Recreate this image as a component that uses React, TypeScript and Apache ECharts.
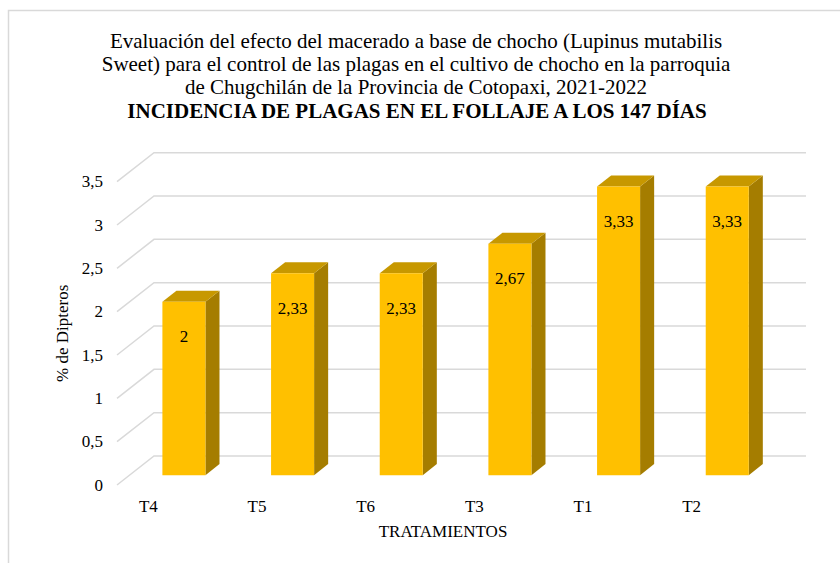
import React, { useEffect, useRef } from "react";
import * as echarts from "echarts";

const categories = ["T4", "T5", "T6", "T3", "T1", "T2"];
const values = [2, 2.33, 2.33, 2.67, 3.33, 3.33];
const yTicks = [0, 0.5, 1, 1.5, 2, 2.5, 3, 3.5];
const titleLines = [
  "Evaluación del efecto del macerado a base de chocho (Lupinus mutabilis",
  "Sweet) para el control de las plagas en el cultivo de chocho en la parroquia",
  "de Chugchilán de la Provincia de Cotopaxi, 2021-2022",
];
const titleBold = "INCIDENCIA DE PLAGAS EN EL FOLLAJE A LOS 147 DÍAS";
const yName = "% de Dipteros";
const xName = "TRATAMIENTOS";

const FONT = "Liberation Serif";
const DX = 37;
const DY = -29;
const fmt = (v: number) => String(v).replace(".", ",");

export default function App() {
  const ref = useRef<HTMLDivElement>(null);
  useEffect(() => {
    document.body.style.margin = "0";
    const chart = echarts.init(ref.current!, null, { renderer: "svg" });
    chart.setOption({
      animation: false,
      backgroundColor: "#ffffff",
      textStyle: { fontFamily: FONT },
      title: [
        {
          text: titleLines.join("\n"),
          left: 416,
          top: 29.5,
          textAlign: "center",
          padding: 0,
          textStyle: { fontFamily: FONT, fontSize: 21, fontWeight: "normal", color: "#000", lineHeight: 23 },
        },
        {
          text: titleBold,
          left: 417,
          top: 99,
          textAlign: "center",
          padding: 0,
          textStyle: { fontFamily: FONT, fontSize: 21, fontWeight: "bold", color: "#000", lineHeight: 23 },
        },
      ],
      graphic: [
        {
          type: "rect",
          shape: { x: 8.5, y: 10.5, width: 900, height: 700 },
          style: { fill: "none", stroke: "#d9d9d9", lineWidth: 1.5 },
          silent: true,
        },
      ],
      grid: { left: 117, top: 181.67, width: 652, height: 303.33 },
      xAxis: {
        type: "category",
        data: categories,
        axisLine: { show: false },
        axisTick: { show: false },
        axisLabel: { fontFamily: FONT, fontSize: 17, color: "#000", margin: 13, padding: [0, 46, 0, 0] },
        name: xName,
        nameLocation: "middle",
        nameGap: 38,
        nameTextStyle: { fontFamily: FONT, fontSize: 17, color: "#000" },
      },
      yAxis: {
        type: "value",
        min: 0,
        max: 3.5,
        interval: 0.5,
        axisLine: { show: false },
        axisTick: { show: false },
        splitLine: { show: false },
        axisLabel: { fontFamily: FONT, fontSize: 17, color: "#000", margin: 14, formatter: (v: number) => fmt(v) },
        name: yName,
        nameLocation: "middle",
        nameRotate: 90,
        nameGap: 44,
        nameTextStyle: { fontFamily: FONT, fontSize: 17, color: "#000" },
      },
      series: [
        {
          type: "custom",
          silent: true,
          z: 1,
          data: yTicks.map((v) => [0, v]),
          encode: { x: 0, y: 1 },
          renderItem: (params: any, api: any) => {
            const cs = params.coordSys;
            const y = api.coord([0, api.value(1)])[1];
            return {
              type: "polyline",
              shape: {
                points: [
                  [cs.x, y],
                  [cs.x + DX, y + DY],
                  [cs.x + cs.width + DX, y + DY],
                ],
              },
              style: { stroke: "#d9d9d9", lineWidth: 1.5, fill: "none" },
            };
          },
        },
        {
          type: "custom",
          z: 2,
          data: values.map((v, i) => [i, v]),
          encode: { x: 0, y: 1 },
          renderItem: (params: any, api: any) => {
            const i = api.value(0);
            const v = api.value(1);
            const base = api.coord([i, 0]);
            const top = api.coord([i, v]);
            const band = api.size([1, 0])[0];
            const w = band * 0.396;
            const fx = DX * 0.34;
            const fy = DY * 0.34;
            const ddx = DX * 0.38;
            const ddy = DY * 0.38;
            const xl = base[0] - w / 2 + fx;
            const xr = xl + w;
            const yt = top[1] + fy;
            const yb = base[1] + fy;
            return {
              type: "group",
              children: [
                {
                  type: "polygon",
                  shape: { points: [[xr, yt], [xr + ddx, yt + ddy], [xr + ddx, yb + ddy], [xr, yb]] },
                  style: { fill: "#a57d00" },
                },
                {
                  type: "polygon",
                  shape: { points: [[xl, yt], [xr, yt], [xr + ddx, yt + ddy], [xl + ddx, yt + ddy]] },
                  style: { fill: "#c79800" },
                },
                {
                  type: "rect",
                  shape: { x: xl, y: yt, width: w, height: yb - yt },
                  style: { fill: "#ffc000" },
                },
                {
                  type: "text",
                  x: (xl + xr) / 2,
                  y: yt + 35,
                  style: {
                    text: fmt(v),
                    fontFamily: FONT,
                    fontSize: 17,
                    fill: "#000",
                    align: "center",
                    verticalAlign: "middle",
                  },
                },
              ],
            };
          },
        },
      ],
    });
    return () => chart.dispose();
  }, []);
  return <div ref={ref} style={{ width: 840, height: 563 }} />;
}
